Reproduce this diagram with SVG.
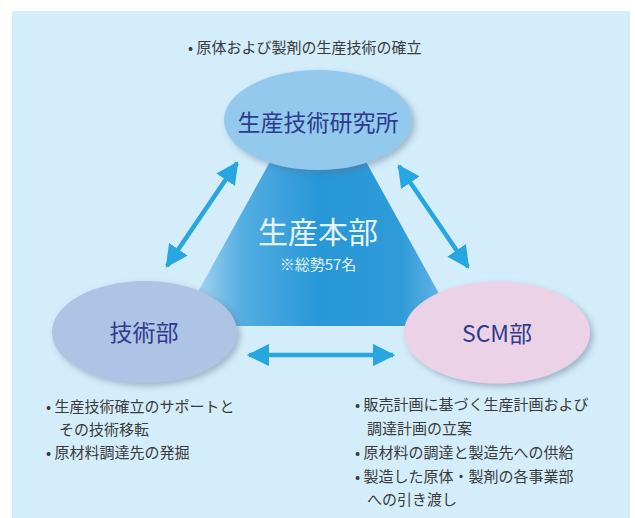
<svg xmlns="http://www.w3.org/2000/svg" width="635" height="518" viewBox="0 0 635 518">
<style>
.lbl{font-family:"Noto Sans CJK JP","Noto Sans",sans-serif;font-size:23px;fill:#2e3a8e;text-anchor:middle}
.txt{font-family:"Noto Sans CJK JP","Noto Sans",sans-serif;font-size:15px;fill:#3a3a3a}
.arr{stroke:#27a6df;stroke-width:4.5;fill:none;marker-start:url(#ah);marker-end:url(#ah)}
</style>
<defs>
<marker id="ah" viewBox="0 0 10 10" refX="9" refY="5" markerWidth="5" markerHeight="5" orient="auto-start-reverse" markerUnits="strokeWidth">
<path d="M0,0 L10,5 L0,10 z" fill="#27a6df"/>
</marker>
<linearGradient id="tri" x1="180" y1="0" x2="457" y2="0" gradientUnits="userSpaceOnUse">
<stop offset="0" stop-color="#c4e2f5"/>
<stop offset="0.22" stop-color="#55aee2"/>
<stop offset="0.5" stop-color="#2797d7"/>
<stop offset="0.8" stop-color="#2f9bd9"/>
<stop offset="1" stop-color="#7cbde8"/>
</linearGradient>
<filter id="sh" x="-20%" y="-20%" width="150%" height="150%">
<feDropShadow dx="3" dy="3" stdDeviation="3" flood-color="#5a6f8a" flood-opacity="0.45"/>
</filter>
</defs>
<rect x="12" y="11" width="618" height="507" fill="#d4edfa"/>
<text class="txt" x="188" y="53" font-size="16">• 原体および製剤の生産技術の確立</text>
<g id="honbu">
<polygon points="318,75 179,326 457,326" fill="url(#tri)"/>
<text x="318" y="243" font-family="'Noto Sans CJK JP',sans-serif" font-size="30" fill="#e8f4fb" text-anchor="middle">生産本部</text>
<text x="318" y="270" font-family="'Noto Sans CJK JP',sans-serif" font-size="15" fill="#e8f4fb" text-anchor="middle">※総勢57名</text>
</g>
<g id="connectors">
<line class="arr" x1="237" y1="163" x2="167" y2="266"/>
<line class="arr" x1="399" y1="166" x2="468" y2="267"/>
<line class="arr" x1="249" y1="355" x2="393" y2="355"/>
</g>
<g id="kenkyujo">
<ellipse cx="318" cy="120" rx="94" ry="50" fill="#93c9ec" filter="url(#sh)"/>
<text class="lbl" x="318" y="131">生産技術研究所</text>
</g>
<g id="gijutsubu">
<ellipse cx="144.5" cy="332" rx="92.5" ry="51" fill="#adc4e4" filter="url(#sh)"/>
<text class="lbl" x="144" y="341">技術部</text>
</g>
<g id="scmbu">
<ellipse cx="497" cy="332.5" rx="93" ry="51" fill="#ecd2e6" filter="url(#sh)"/>
<text class="lbl" x="497" y="342">SCM部</text>
</g>
<g id="left-notes">
<text class="txt" x="46" y="412">• 生産技術確立のサポートと</text>
<text class="txt" x="59" y="435">その技術移転</text>
<text class="txt" x="46" y="458">• 原材料調達先の発掘</text>
</g>
<g id="right-notes">
<text class="txt" x="355" y="410">• 販売計画に基づく生産計画および</text>
<text class="txt" x="367" y="434">調達計画の立案</text>
<text class="txt" x="355" y="458">• 原材料の調達と製造先への供給</text>
<text class="txt" x="355" y="482">• 製造した原体・製剤の各事業部</text>
<text class="txt" x="367" y="505">への引き渡し</text>
</g>
</svg>
